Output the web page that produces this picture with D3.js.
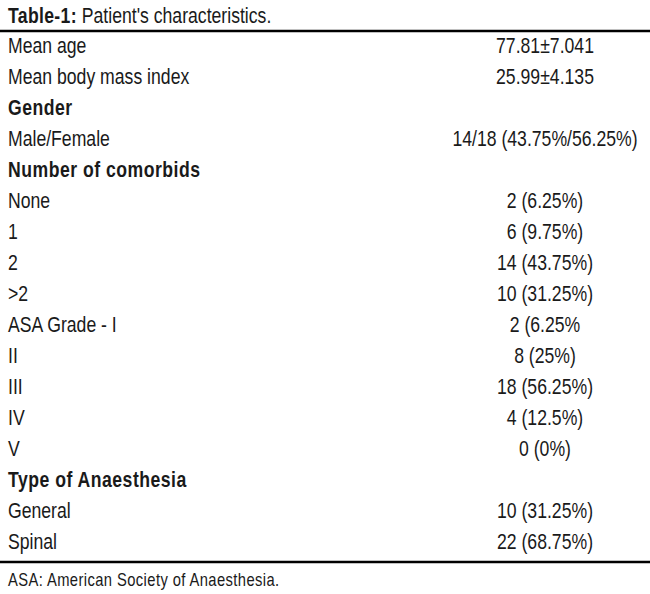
<!DOCTYPE html>
<html>
<head>
<meta charset="utf-8">
<script src="https://cdn.jsdelivr.net/npm/d3@7"></script>
<style>
  body { margin: 0; background: #fff; }
  svg text { font-family: "Liberation Sans", Arial, sans-serif; fill: #1a1a1a; }
</style>
</head>
<body>
<div id="table"></div>
<script>
// Table content, one entry per row
const rowLabels = [
  "Mean age", "Mean body mass index", "Gender", "Male/Female",
  "Number of comorbids", "None", "1", "2", ">2",
  "ASA Grade - I", "II", "III", "IV", "V",
  "Type of Anaesthesia", "General", "Spinal"
];
const rowValues = [
  "77.81\u00B17.041", "25.99\u00B14.135", "", "14/18 (43.75%/56.25%)",
  "", "2 (6.25%)", "6 (9.75%)", "14 (43.75%)", "10 (31.25%)",
  "2 (6.25%", "8 (25%)", "18 (56.25%)", "4 (12.5%)", "0 (0%)",
  "", "10 (31.25%)", "22 (68.75%)"
];
// section headings
const sectionRows = ["Gender", "Number of comorbids", "Type of Anaesthesia"];

const titleLead = "Table-1:";
const titleText = " Patient's characteristics.";
const footnote = "ASA: American Society of Anaesthesia.";

const width = 650, height = 594;
const narrow = 0.82;   // squeeze the glyphs to get a condensed face

const svg = d3.select("#table").append("svg")
  .attr("width", width)
  .attr("height", height);

// rows laid out as bands
const y = d3.scaleBand()
  .domain(d3.range(rowLabels.length))
  .range([29.5, 29.5 + 31 * rowLabels.length]);

const xLabel = 8, xValue = 545;

// title
const title = svg.append("text")
  .attr("transform", `translate(${xLabel},23) scale(${narrow},1)`)
  .style("font-size", "21.5px");
title.append("tspan").attr("font-weight", "bold").style("letter-spacing", "0.4px").text(titleLead);
title.append("tspan").text(titleText);

// rules
svg.append("line")
  .attr("x1", 0).attr("x2", width)
  .attr("y1", 31).attr("y2", 31)
  .attr("stroke", "#000").attr("stroke-width", 2.5);

svg.append("line")
  .attr("x1", 0).attr("x2", width)
  .attr("y1", 562).attr("y2", 562)
  .attr("stroke", "#000").attr("stroke-width", 2.5);

const rows = svg.append("g").selectAll("g")
  .data(rowLabels.map((d, i) => ({label: d, value: rowValues[i], i: i})))
  .join("g")
  .attr("transform", d => `translate(0,${y(d.i) + y.bandwidth() / 2 + 7.5})`);

rows.append("text")
  .attr("transform", `translate(${xLabel},0) scale(${narrow},1)`)
  .style("font-size", "21.5px")
  .attr("font-weight", d => sectionRows.includes(d.label) ? "bold" : null)
  .style("letter-spacing", d => sectionRows.includes(d.label) ? "0.6px" : null)
  .text(d => d.label);

rows.append("text")
  .attr("transform", `translate(${xValue},0) scale(${narrow},1)`)
  .attr("text-anchor", "middle")
  .style("font-size", "21.5px")
  .text(d => d.value);

// footnote
svg.append("text")
  .attr("transform", `translate(${xLabel},586) scale(${narrow},1)`)
  .style("font-size", "18px")
  .style("letter-spacing", "0.5px")
  .text(footnote);
</script>
</body>
</html>
